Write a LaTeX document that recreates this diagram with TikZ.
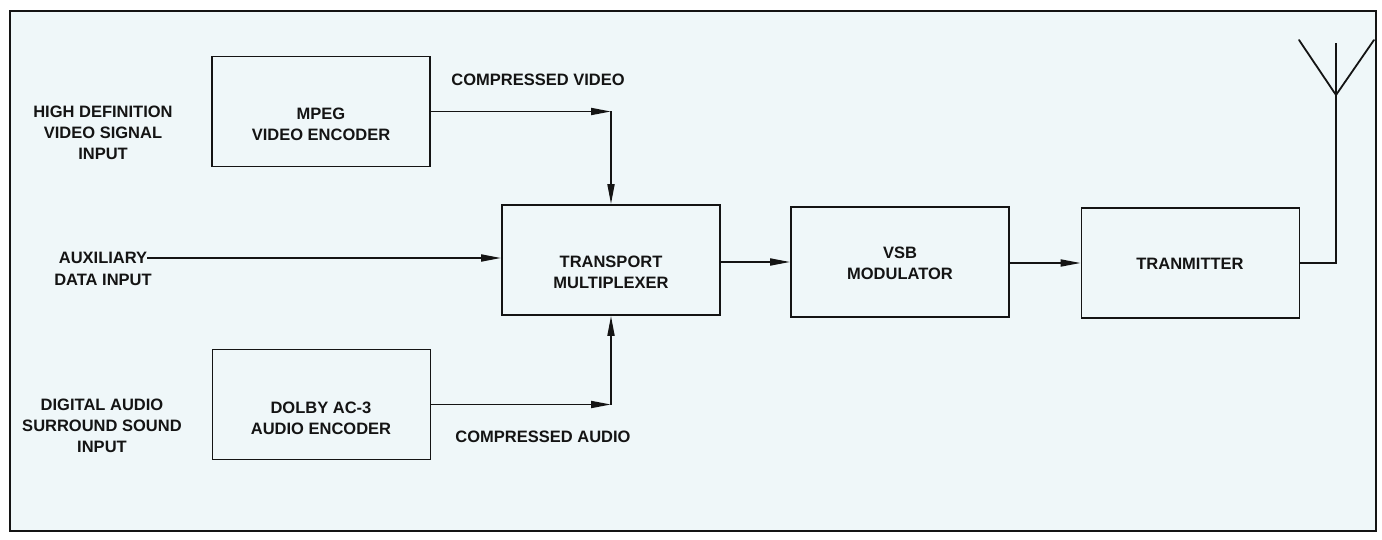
\documentclass[tikz,border=0pt]{standalone}
\usepackage{fontspec}
\setmainfont{Liberation Sans}
\usetikzlibrary{arrows.meta}
\definecolor{bgc}{RGB}{239,247,249}
\definecolor{ink}{RGB}{20,20,20}
\begin{document}
\begin{tikzpicture}[x=1pt,y=-1pt,
  box/.style={draw=ink, line width=1.8pt, minimum width=218pt, minimum height=110pt, inner sep=0pt},
  lbl/.style={font=\bfseries\fontsize{16.5}{21}\selectfont, align=center, inner sep=0pt, text=ink},
  wire/.style={draw=ink, line width=1.8pt},
  arr/.style={wire, -{Triangle[length=20pt,width=7pt]}},
  framebox/.style={draw=ink, line width=2.5pt, fill=bgc}
]
\useasboundingbox (0,0) rectangle (1382,540);
\fill[white] (0,0) rectangle (1382,540);
\draw[framebox] (10,11) rectangle (1376,531);

% boxes
\node[box] (mpeg)  at (321,111.5) {};
\node[box] (tm)    at (611,260) {};
\node[box] (vsb)   at (900,262) {};
\node[box] (tx)    at (1190.5,263) {};
\node[box] (dolby) at (321.5,404.5) {};

% box texts
\node[lbl] (mpegT)  at (321,124) {MPEG\\VIDEO ENCODER};
\node[lbl] (tmT)    at (611,272) {TRANSPORT\\MULTIPLEXER};
\node[lbl] (vsbT)   at (900,263) {VSB\\MODULATOR};
\node[lbl] (txT)    at (1190,264) {TRANMITTER};
\node[lbl] (dolbyT) at (321,418) {DOLBY AC-3\\AUDIO ENCODER};

% outside labels
\node[lbl] (hd)   at (103,133) {HIGH DEFINITION\\VIDEO SIGNAL\\INPUT};
\node[lbl] (auxA) at (103,258) {AUXILIARY};
\node[lbl] (auxB) at (103,280) {DATA INPUT};
\node[lbl] (da)   at (102,426) {DIGITAL AUDIO\\SURROUND SOUND\\INPUT};
\node[lbl] (cvid) at (538,80) {COMPRESSED VIDEO};
\node[lbl] (caud) at (543,437) {COMPRESSED AUDIO};

% connectors
\draw[arr] (mpeg.east) -- (mpeg.east -| tm.north);
\draw[arr] (mpeg.east -| tm.north) -- (tm.north);
\draw[arr] (dolby.east) -- (dolby.east -| tm.south);
\draw[arr] (dolby.east -| tm.south) -- (tm.south);
\draw[arr] (auxA.east) -- (auxA.east -| tm.west);
\draw[arr] (tm.east |- vsb.west) -- (vsb.west);
\draw[arr] (vsb.east |- tx.west) -- (tx.west);

% antenna
\coordinate (antJ) at (1336,95);
\coordinate (antC) at (1336,43);
\coordinate (antL) at (1299,40);
\coordinate (antR) at (1374,40);
\draw[wire] (tx.east) -| (antJ);
\draw[wire] (antJ) -- (antC);
\draw[wire, line cap=round] (antL) -- (antJ) -- (antR);
\end{tikzpicture}
\end{document}
